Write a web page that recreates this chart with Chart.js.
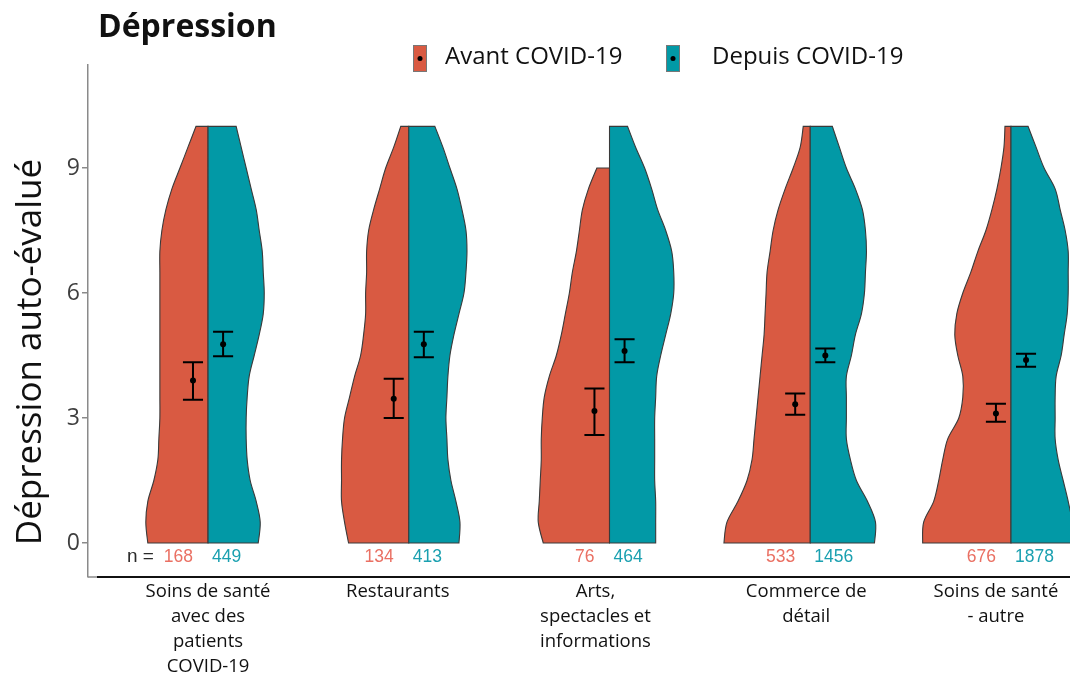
<!DOCTYPE html>
<html lang="fr">
<head>
<meta charset="utf-8">
<title>Dépression</title>
<script src="https://cdn.jsdelivr.net/npm/chart.js@4.4.1/dist/chart.umd.min.js"></script>
<style>
  html, body { margin: 0; padding: 0; background: #ffffff; }
  #wrap { position: relative; width: 1070px; height: 673px; }
</style>
</head>
<body>
<div id="wrap"><canvas id="chart"></canvas></div>
<script>
// Sectors (multi-line category labels)
const categories = [
  ["Soins de santé", "avec des", "patients", "COVID-19"],
  ["Restaurants"],
  ["Arts,", "spectacles et", "informations"],
  ["Commerce de", "détail"],
  ["Soins de santé", "- autre"]
];
const seriesNames = ["Avant COVID-19", "Depuis COVID-19"];
const chartTitle = "Dépression";
const yAxisTitle = "Dépression auto-évalué";
const yTicks = [0, 3, 6, 9];

// Sample sizes
const nAvant = [168, 134, 76, 533, 676];
const nDepuis = [449, 413, 464, 1456, 1878];

// Means with confidence intervals
const meanAvant = [3.90, 3.46, 3.17, 3.33, 3.11];
const lowAvant  = [3.44, 3.00, 2.59, 3.08, 2.91];
const highAvant = [4.34, 3.94, 3.71, 3.59, 3.34];
const meanDepuis = [4.77, 4.77, 4.61, 4.50, 4.39];
const lowDepuis  = [4.48, 4.46, 4.34, 4.34, 4.23];
const highDepuis = [5.07, 5.07, 4.89, 4.67, 4.54];

// Score levels at which the density half-widths are given
const densityLevels = [0, 0.5, 1, 1.5, 2, 2.5, 3, 3.5, 4, 4.5, 5, 5.5, 6, 6.5, 7, 7.5, 8, 8.5, 9, 9.5, 10];

// Violin half-widths (hundredths of the spacing between sectors)
const densityAvant = [
  [30, 31, 30, 27, 25, 24.5, 24, 24, 24, 24, 24, 24, 24, 24, 24, 23, 21, 18, 14, 10, 6],
  [30, 32, 33.5, 33.5, 33.5, 33, 32, 29.5, 27, 24, 22.5, 21.5, 21.5, 21, 21, 20, 17.5, 14.5, 11.5, 7.5, 4],
  [33, 35.5, 35, 34.5, 34, 34, 33.5, 32.5, 30, 26.5, 24, 22, 20, 18.5, 16.5, 15, 13.5, 10.5, 6.3],
  [43, 41.5, 36, 31.5, 29, 28, 27, 26, 25, 24, 23, 22.5, 22, 21.5, 20, 18.5, 16, 12.5, 8.5, 5, 3.5],
  [44, 43.5, 38.5, 36, 34, 31.5, 26, 24, 24, 26.5, 28, 27, 24, 20, 16.5, 12.5, 9.5, 7, 5, 3.5, 3]
];
const densityDepuis = [
  [25, 26, 24, 21, 19.5, 19, 19, 19.5, 20.5, 23, 25.5, 27.5, 28, 27.5, 27, 25.5, 24, 21.5, 19, 16.5, 14],
  [25, 25.5, 23.5, 21, 19.5, 19, 18.5, 19, 19.5, 20.5, 22.5, 25, 27.5, 28.5, 29, 28.5, 26.5, 24, 20.5, 17, 13],
  [23, 23, 23, 22.5, 22.5, 22.5, 22.5, 23, 23.5, 25.5, 28, 30.5, 32, 32, 31, 28, 24, 21, 17.5, 13, 9],
  [32, 32.5, 28.5, 23, 20, 18, 18, 18, 18, 20.5, 22.5, 25.5, 27, 27.5, 28, 27.5, 26, 22.5, 18, 14.5, 11],
  [31, 30.5, 28.5, 26, 23.5, 22, 22, 22, 22.5, 25, 26.5, 28, 28.5, 28.5, 28.5, 27, 24.5, 22, 16.5, 12.5, 8.5]
];

const colAvant = "#d95a42";
const colDepuis = "#0299a6";
const txtAvant = "#ea7063";
const txtDepuis = "#1aa0b0";
const outline = "#3a3a3a";
const barOffset = 0.075;   // error bars sit this far from the split line
const capHalf = 0.05;
// horizontal nudge of each sector label relative to its violin (in sector units)
const labelNudge = [0, -0.055, -0.07, -0.02, -0.075];

// Smooth curve through a list of pixel points (Catmull-Rom as cubic Béziers)
function smoothThrough(ctx, pts) {
  ctx.lineTo(pts[0][0], pts[0][1]);
  for (let k = 0; k < pts.length - 1; k++) {
    const p0 = pts[k - 1] || pts[k], p1 = pts[k], p2 = pts[k + 1], p3 = pts[k + 2] || p2;
    ctx.bezierCurveTo(
      p1[0] + (p2[0] - p0[0]) / 6, p1[1] + (p2[1] - p0[1]) / 6,
      p2[0] - (p3[0] - p1[0]) / 6, p2[1] - (p3[1] - p1[1]) / 6,
      p2[0], p2[1]);
  }
}

function drawHalf(ctx, xs, ys, idx, widths, side, color) {
  const cx = xs.getPixelForValue(idx);
  const pts = widths.map((w, k) => [
    xs.getPixelForValue(idx + side * w / 100),
    ys.getPixelForValue(densityLevels[k])
  ]);
  const yBottom = ys.getPixelForValue(densityLevels[0]);
  const yTop = ys.getPixelForValue(densityLevels[widths.length - 1]);
  ctx.beginPath();
  ctx.moveTo(cx, yBottom);
  smoothThrough(ctx, pts);
  ctx.lineTo(cx, yTop);
  ctx.closePath();
  ctx.fillStyle = color;
  ctx.fill();
  ctx.lineWidth = 1.1;
  ctx.strokeStyle = outline;
  ctx.stroke();
}

function drawErrorBar(ctx, xs, ys, xv, lo, hi) {
  const x = xs.getPixelForValue(xv);
  const x1 = xs.getPixelForValue(xv - capHalf), x2 = xs.getPixelForValue(xv + capHalf);
  const yl = ys.getPixelForValue(lo), yh = ys.getPixelForValue(hi);
  ctx.beginPath();
  ctx.moveTo(x, yl); ctx.lineTo(x, yh);
  ctx.moveTo(x1, yl); ctx.lineTo(x2, yl);
  ctx.moveTo(x1, yh); ctx.lineTo(x2, yh);
  ctx.lineWidth = 2;
  ctx.strokeStyle = "#000";
  ctx.stroke();
}

// Split violins, error bars and sample-size labels
const violinPlugin = {
  id: "splitViolins",
  beforeDatasetsDraw(chart) {
    const { ctx, chartArea } = chart;
    const xs = chart.scales.x, ys = chart.scales.y;
    ctx.save();
    ctx.beginPath();
    ctx.rect(chartArea.left, 0, chartArea.right - chartArea.left, chart.height);
    ctx.clip();
    categories.forEach((_, i) => {
      drawHalf(ctx, xs, ys, i, densityAvant[i], -1, colAvant);
      drawHalf(ctx, xs, ys, i, densityDepuis[i], 1, colDepuis);
      drawErrorBar(ctx, xs, ys, i - barOffset, lowAvant[i], highAvant[i]);
      drawErrorBar(ctx, xs, ys, i + barOffset, lowDepuis[i], highDepuis[i]);
    });
    ctx.restore();

    // sample sizes under each violin
    ctx.save();
    ctx.textBaseline = "middle";
    const yN = ys.getPixelForValue(densityLevels[0]) + 14;
    categories.forEach((_, i) => {
      const cx = xs.getPixelForValue(i);
      ctx.font = "17.5px 'Liberation Sans', Arial, sans-serif";
      ctx.textAlign = "right";
      ctx.fillStyle = txtAvant;
      ctx.fillText(String(nAvant[i]), cx - 15, yN);
      if (i === 0) {
        const w = ctx.measureText(String(nAvant[i])).width;
        ctx.font = "19px 'Liberation Sans', Arial, sans-serif";
        ctx.fillStyle = "#2a2a2a";
        ctx.fillText("n =", cx - 15 - w - 10, yN);
        ctx.font = "17.5px 'Liberation Sans', Arial, sans-serif";
      }
      ctx.textAlign = "left";
      ctx.fillStyle = txtDepuis;
      ctx.fillText(String(nDepuis[i]), cx + 4, yN);
    });
    ctx.restore();
  },
  afterDraw(chart) {
    const { ctx, chartArea } = chart;
    ctx.save();
    // baseline under the plot
    ctx.beginPath();
    ctx.moveTo(chartArea.left, chartArea.bottom);
    ctx.lineTo(chartArea.left + 9, chartArea.bottom);
    ctx.lineWidth = 1.5;
    ctx.strokeStyle = "#8a8a8a";
    ctx.stroke();
    ctx.beginPath();
    ctx.moveTo(chartArea.left + 9, chartArea.bottom);
    ctx.lineTo(chartArea.right, chartArea.bottom);
    ctx.lineWidth = 2;
    ctx.strokeStyle = "#111";
    ctx.stroke();

    // y-axis title
    ctx.save();
    ctx.translate(31, 352);
    ctx.rotate(-Math.PI / 2);
    ctx.font = "35px 'Open Sans', sans-serif";
    ctx.fillStyle = "#111";
    ctx.textAlign = "center";
    ctx.textBaseline = "middle";
    ctx.fillText(yAxisTitle, 0, 0);
    ctx.restore();

    // title
    ctx.font = "bold 32px 'Open Sans', sans-serif";
    ctx.fillStyle = "#111";
    ctx.textAlign = "left";
    ctx.textBaseline = "middle";
    ctx.fillText(chartTitle, 98, 28);

    // legend
    const items = [
      { x: 413, color: colAvant, text: seriesNames[0], tx: 445 },
      { x: 666, color: colDepuis, text: seriesNames[1], tx: 712 }
    ];
    ctx.font = "24px 'Open Sans', sans-serif";
    items.forEach(it => {
      ctx.fillStyle = it.color;
      ctx.fillRect(it.x, 45, 14, 27);
      ctx.lineWidth = 1;
      ctx.strokeStyle = "#777";
      ctx.strokeRect(it.x + 0.5, 45.5, 13, 26);
      ctx.beginPath();
      ctx.arc(it.x + 7, 58.5, 2.5, 0, Math.PI * 2);
      ctx.fillStyle = "#000";
      ctx.fill();
      ctx.fillStyle = "#111";
      ctx.fillText(it.text, it.tx, 57);
    });
    ctx.restore();
  }
};

const pointsAvant = meanAvant.map((m, i) => ({ x: i - barOffset, y: m }));
const pointsDepuis = meanDepuis.map((m, i) => ({ x: i + barOffset, y: m }));

new Chart(document.getElementById("chart"), {
  type: "scatter",
  data: {
    datasets: [
      { label: seriesNames[0], data: pointsAvant, pointRadius: 3, pointBackgroundColor: "#000", pointBorderWidth: 0 },
      { label: seriesNames[1], data: pointsDepuis, pointRadius: 3, pointBackgroundColor: "#000", pointBorderWidth: 0 }
    ]
  },
  options: {
    responsive: true,
    maintainAspectRatio: false,
    animation: false,
    events: [],
    layout: { autoPadding: false, padding: { top: 65, left: 0, right: 0, bottom: 0 } },
    plugins: { legend: { display: false }, title: { display: false }, tooltip: { enabled: false } },
    scales: {
      x: {
        type: "linear",
        min: -0.598,
        max: 4.294,
        afterBuildTicks: s => { s.ticks = categories.map((_, i) => ({ value: i + labelNudge[i] })); },
        afterFit: s => { s.height = 96; s.paddingLeft = 0; s.paddingRight = 0; },
        grid: { display: false },
        border: { display: false },
        ticks: {
          autoSkip: false,
          maxRotation: 0,
          padding: -6,
          color: "#111",
          font: { family: "'Open Sans', sans-serif", size: 18.5, lineHeight: 1.35 },
          callback: (v, idx) => categories[idx]
        }
      },
      y: {
        min: -0.816,
        max: 11.472,
        afterBuildTicks: s => { s.ticks = yTicks.map(v => ({ value: v })); },
        afterFit: s => { s.width = 88; s.paddingTop = 0; s.paddingBottom = 0; },
        grid: { drawOnChartArea: false, drawTicks: true, tickLength: 6, color: "#8a8a8a", lineWidth: 1.5 },
        border: { display: true, color: "#8a8a8a", width: 1.5 },
        ticks: { padding: 2, color: "#3f3f3f", font: { family: "'Open Sans', sans-serif", size: 23 } },
        title: { display: false, text: yAxisTitle }
      }
    }
  },
  plugins: [violinPlugin]
});
</script>
</body>
</html>
